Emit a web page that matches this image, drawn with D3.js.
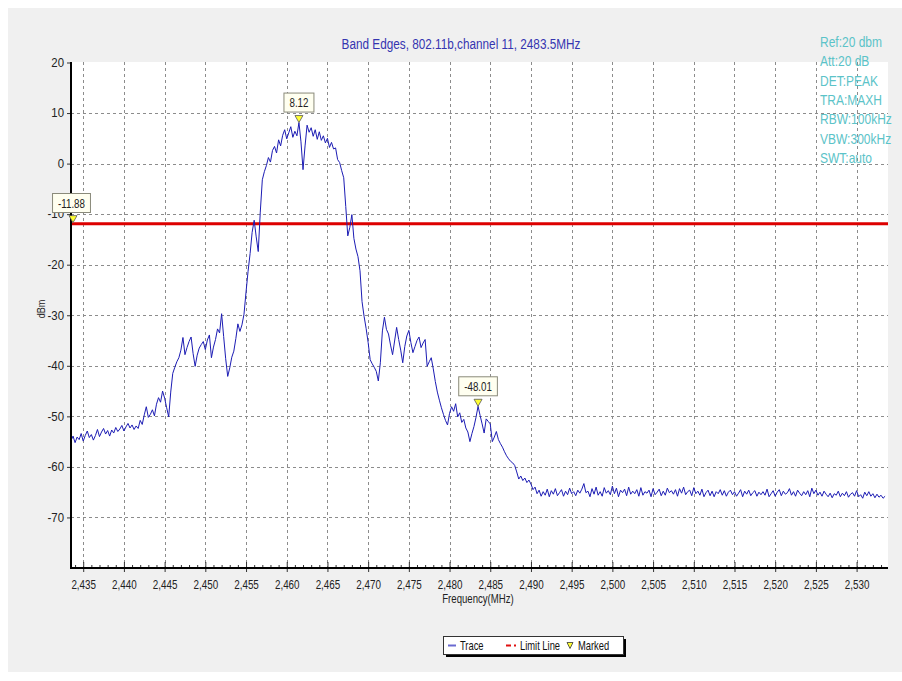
<!DOCTYPE html>
<html>
<head>
<meta charset="utf-8">
<script src="https://cdn.jsdelivr.net/npm/d3@7"></script>
<style>
body { margin: 0; background: #fff; }
svg { display: block; }
text { font-family: "Liberation Sans", Arial, sans-serif; }
</style>
</head>
<body>
<svg width="902" height="681"></svg>
<script>
// chart text
const titleText = "Band Edges, 802.11b,channel 11, 2483.5MHz";
const setupLines = ["Ref:20 dbm", "Att:20 dB", "DET:PEAK", "TRA:MAXH", "RBW:100kHz", "VBW:300kHz", "SWT:auto"];
const legendItems = ["Trace", "Limit Line", "Marked"];

// axes
const sweepRange = [2433.5, 2533.5];   // MHz, 100 MHz span around 2483.5
const freqTicks = [2435, 2440, 2445, 2450, 2455, 2460, 2465, 2470, 2475, 2480,
                   2485, 2490, 2495, 2500, 2505, 2510, 2515, 2520, 2525, 2530];
const dbmRange = [-80, 20];
const dbmTicks = [20, 10, 0, -10, -20, -30, -40, -50, -60, -70];

// limit line and markers
const limitDbm = -11.88;
const markerFreq = [2461.5, 2483.5];
const markerDbm = [8.12, -48.01];

// trace, one value every 0.25 MHz from 2433.5 to 2533.5
const traceDbm = [
  -54.8, -53.9, -55.2, -54.1,   // 2433.5
  -54.6, -53.4, -54.9, -53.8,
  -52.9, -54.2, -53.6, -54.7,
  -53.8, -52.6, -54.0, -53.1,
  -52.4, -53.5, -52.8, -53.9,
  -52.7, -53.3, -52.2, -53.0,   // 2438.5
  -52.5, -51.8, -52.9, -52.1,
  -51.4, -52.3, -51.7, -52.6,
  -51.9, -52.4, -50.8, -51.6,
  -49.7, -48.1, -50.2, -49.6,
  -48.7, -49.9, -47.6, -46.3,   // 2443.5
  -47.2, -45.0, -46.4, -48.3,
  -50.1, -45.2, -41.5, -40.3,
  -39.2, -38.4, -36.9, -34.4,
  -37.8, -36.4, -35.2, -34.3,
  -37.6, -40.1, -37.9, -36.5,   // 2448.5
  -35.8, -35.2, -36.8, -34.9,
  -33.9, -38.4, -36.3, -34.8,
  -32.7, -33.5, -29.7, -34.2,
  -38.6, -42.1, -40.4, -38.3,
  -37.1, -34.6, -31.7, -33.2,   // 2453.5
  -31.9, -29.8, -25.4, -21.3,
  -17.8, -13.6, -11.2, -14.5,
  -17.4, -9.6, -3.2, -1.6,
  -0.4, 1.2, 0.3, 2.6,
  3.4, 2.1, 4.7, 3.5,           // 2458.5
  5.6, 6.7, 4.9, 6.1,
  7.3, 5.2, 6.4, 5.5,
  8.12, 4.3, -1.2, 3.5,
  7.6, 6.2, 7.1, 5.4,
  6.7, 4.8, 6.3, 4.6,           // 2463.5
  5.5, 4.1, 5.0, 3.2,
  4.2, 2.9, 3.1, 0.8,
  0.2, -1.4, -2.8, -8.5,
  -14.3, -12.6, -10.1, -14.8,
  -16.9, -18.4, -21.2, -27.3,   // 2468.5
  -30.2, -32.6, -35.4, -38.8,
  -39.6, -40.3, -41.1, -43.0,
  -39.4, -33.1, -30.4, -32.8,
  -33.7, -35.9, -37.8, -35.1,
  -32.4, -34.8, -36.9, -39.4,   // 2473.5
  -36.2, -34.1, -33.0, -35.4,
  -37.4, -36.2, -35.0, -34.3,
  -36.4, -35.5, -34.8, -40.1,
  -39.2, -38.4, -40.6, -43.1,
  -45.2, -46.8, -48.3, -49.6,   // 2478.5
  -50.8, -51.7, -49.4, -48.1,
  -49.0, -47.5, -50.1, -49.3,
  -51.2, -50.6, -52.3, -53.1,
  -55.0, -53.4, -52.0, -50.2,
  -48.01, -49.8, -51.5, -53.3,  // 2483.5
  -50.5, -51.0, -51.5, -55.0,
  -54.1, -53.0, -54.6, -55.4,
  -56.1, -57.0, -57.8, -58.4,
  -58.9, -59.2, -59.7, -61.0,
  -62.4, -61.8, -62.7, -62.2,   // 2488.5
  -63.1, -62.6, -63.4, -64.5,
  -64.0, -65.3, -64.6, -65.8,
  -64.9, -65.6, -64.4, -65.9,
  -64.7, -65.4, -64.3, -65.7,
  -65.1, -64.5, -65.8, -64.8,   // 2493.5
  -65.5, -64.2, -65.3, -64.9,
  -65.7, -64.6, -65.2, -64.4,
  -63.3, -65.1, -64.8, -65.9,
  -64.3, -65.4, -64.0, -65.6,
  -64.9, -65.8, -64.1, -65.2,   // 2498.5
  -64.7, -65.5, -63.8, -65.3,
  -64.2, -65.9, -64.6, -65.1,
  -64.4, -65.7, -64.0, -65.4,
  -64.8, -65.3, -64.5, -65.8,
  -64.1, -65.6, -64.9, -65.2,   // 2503.5
  -64.6, -65.9, -64.3, -65.5,
  -65.0, -64.4, -65.7, -64.8,
  -65.6, -64.2, -65.1, -64.7,
  -65.4, -64.5, -65.8, -64.3,
  -65.2, -64.0, -65.5, -64.9,   // 2508.5
  -64.6, -65.7, -64.1, -65.3,
  -64.8, -65.6, -64.4, -65.9,
  -65.1, -64.6, -65.7, -64.8,
  -65.9, -64.9, -65.3, -64.5,
  -65.6, -64.7, -65.8, -65.0,   // 2513.5
  -64.6, -65.5, -64.9, -65.8,
  -65.2, -64.5, -65.9, -64.8,
  -65.4, -64.6, -65.7, -65.1,
  -64.7, -65.8, -65.0, -65.5,
  -64.9, -65.6, -64.4, -65.9,   // 2518.5
  -65.3, -64.7, -65.8, -65.0,
  -64.5, -65.7, -64.8, -65.4,
  -65.1, -64.3, -65.6, -64.9,
  -65.8, -64.6, -65.2, -65.7,
  -64.9, -65.5, -64.7, -65.9,   // 2523.5
  -64.2, -65.3, -64.6, -65.6,
  -65.0, -65.8, -64.8, -65.4,
  -65.9, -65.2, -66.1, -65.3,
  -65.6, -64.8, -65.9, -65.2,
  -65.7, -64.9, -66.0, -65.4,   // 2528.5
  -65.1, -65.8, -64.7, -65.9,
  -65.5, -66.2, -65.0, -65.7,
  -64.9, -65.8, -65.3, -66.1,
  -65.4, -66.0, -65.6, -66.2,
  -65.8                         // 2533.5
];

let svg = d3.select("svg");

// squeeze Liberation Sans into a narrow face like the original
function narrow(sel, k) {
    sel.each(function() {
        let w = this.getComputedTextLength();
        d3.select(this).attr("textLength", w * k).attr("lengthAdjust", "spacingAndGlyphs");
    });
}

// panel background
svg.append("rect").attr("x", 8).attr("y", 8).attr("width", 894).attr("height", 664).attr("fill", "#f0f0f0");

let plotL = 71, plotR = 888, plotT = 62, plotB = 568;
svg.append("rect").attr("x", plotL).attr("y", plotT).attr("width", plotR - plotL).attr("height", plotB - plotT).attr("fill", "#fff");

let x = d3.scaleLinear().domain(sweepRange).range([71, 885.1]);
let y = d3.scaleLinear().domain(dbmRange).range([plotB, 62.5]);
let idxToFreq = d3.scaleLinear().domain([0, traceDbm.length - 1]).range(sweepRange);

// grid
let grid = svg.append("g").attr("stroke", "#8c8c8c").attr("stroke-dasharray", "3,3").attr("stroke-width", 1);
grid.selectAll("line.v").data(freqTicks).enter().append("line")
    .attr("x1", d => Math.round(x(d)) + 0.5).attr("x2", d => Math.round(x(d)) + 0.5)
    .attr("y1", plotT).attr("y2", plotB);
grid.selectAll("line.h").data(dbmTicks.filter(d => d < 20)).enter().append("line")
    .attr("x1", plotL).attr("x2", plotR)
    .attr("y1", d => Math.round(y(d)) + 0.5).attr("y2", d => Math.round(y(d)) + 0.5);

// limit line
svg.append("line")
    .attr("x1", plotL).attr("x2", plotR)
    .attr("y1", y(limitDbm)).attr("y2", y(limitDbm))
    .attr("stroke", "#dd0000").attr("stroke-width", 3);

// trace
let line = d3.line()
    .x((d, i) => x(idxToFreq(i)))
    .y(d => y(d));
svg.append("path").datum(traceDbm)
    .attr("d", line)
    .attr("fill", "none")
    .attr("stroke", "#1c1cb4")
    .attr("stroke-width", 1)
    .attr("stroke-linejoin", "round");

// x axis
let xAxis = svg.append("g").attr("transform", `translate(0,${plotB})`)
    .call(d3.axisBottom(x).tickValues(freqTicks).tickSize(4).tickPadding(8).tickFormat(d3.format(",")));
svg.append("g").attr("transform", `translate(0,${plotB})`)
    .call(d3.axisBottom(x).tickValues(freqTicks).tickSize(-6).tickFormat(""));
svg.append("g").attr("transform", `translate(0,${plotB})`)
    .call(d3.axisBottom(x).tickValues(d3.range(2434, 2534).filter(d => d % 5 !== 0)).tickSize(-3).tickFormat(""));

// y axis
let yAxis = svg.append("g").attr("transform", `translate(${plotL},0)`)
    .call(d3.axisLeft(y).tickValues(dbmTicks).tickSize(4).tickPadding(3).tickFormat(d => String(d)));

svg.selectAll(".domain").remove();
svg.selectAll(".tick line").attr("stroke", "#333");
svg.selectAll(".tick text").attr("font-size", 12).attr("fill", "#222")
    .attr("font-family", "\"Liberation Sans\", Arial, sans-serif");
narrow(xAxis.selectAll(".tick text"), 0.82);
narrow(yAxis.selectAll(".tick text"), 0.95);

// axis lines
svg.append("line").attr("x1", plotL).attr("x2", plotL).attr("y1", plotT).attr("y2", plotB + 1)
    .attr("stroke", "#000").attr("stroke-width", 2);
svg.append("line").attr("x1", plotL - 1).attr("x2", plotR).attr("y1", plotB).attr("y2", plotB)
    .attr("stroke", "#000").attr("stroke-width", 2);

// axis titles
svg.append("text").attr("x", 478).attr("y", 603).attr("text-anchor", "middle")
    .attr("font-size", 12).attr("fill", "#222").text("Frequency(MHz)")
    .call(narrow, 0.8);
svg.append("text").attr("transform", "translate(45,309) rotate(-90)").attr("text-anchor", "middle")
    .attr("font-size", 11).attr("fill", "#222").text("dBm")
    .call(narrow, 0.82);

// title
svg.append("text").attr("x", 461).attr("y", 49).attr("text-anchor", "middle")
    .attr("font-size", 14).attr("fill", "#3535b0").text(titleText)
    .call(narrow, 0.84);

// setup text
svg.append("g").selectAll("text").data(setupLines).enter().append("text")
    .attr("x", 820).attr("y", (d, i) => 47 + i * 19.3)
    .attr("font-size", 15).attr("fill", "#5bc3c8")
    .text(d => d)
    .call(narrow, 0.8);

// markers
function markerTriangle(g, cx, tipY) {
    g.append("path")
        .attr("d", `M${cx - 4},${tipY - 7}L${cx + 4},${tipY - 7}L${cx},${tipY}Z`)
        .attr("fill", "#ffff33").attr("stroke", "#555").attr("stroke-width", 0.8);
}
function markerLabel(g, cx, boxBottom, label) {
    let t = g.append("text").attr("x", cx).attr("y", boxBottom - 5)
        .attr("text-anchor", "middle").attr("font-size", 13).attr("fill", "#222").text(label);
    narrow(t, 0.75);
    let w = +t.attr("textLength") + 11;
    g.insert("rect", "text")
        .attr("x", cx - w / 2).attr("y", boxBottom - 19).attr("width", w).attr("height", 19)
        .attr("fill", "#fffff0").attr("stroke", "#8a8a7a").attr("stroke-width", 1);
}

let mk = svg.append("g");
markerFreq.forEach((f, i) => {
    let px = x(f), py = y(markerDbm[i]);
    markerTriangle(mk, px, py);
    markerLabel(mk.append("g"), px, py - 10.5, markerDbm[i].toFixed(2));
});
// limit value marker at the axis
markerTriangle(mk, plotL + 2, y(limitDbm) - 1);
markerLabel(mk.append("g"), 71.5, 212.5, limitDbm.toFixed(2));

// legend
let lg = svg.append("g").attr("transform", "translate(443,636)");
lg.append("rect").attr("x", 3).attr("y", 3).attr("width", 180).attr("height", 18).attr("fill", "#000");
lg.append("rect").attr("x", 0.5).attr("y", 0.5).attr("width", 180).attr("height", 18).attr("fill", "#fff").attr("stroke", "#333");
lg.append("line").attr("x1", 5).attr("x2", 13).attr("y1", 9.5).attr("y2", 9.5).attr("stroke", "#6a6ad0").attr("stroke-width", 2);
lg.append("line").attr("x1", 63).attr("x2", 75).attr("y1", 9.5).attr("y2", 9.5).attr("stroke", "#e01010").attr("stroke-width", 2).attr("stroke-dasharray", "5,3,2");
lg.append("path").attr("d", "M124,6.5L130,6.5L127,12.5Z").attr("fill", "#ffff33").attr("stroke", "#333").attr("stroke-width", 0.8);
lg.selectAll("text.item").data(legendItems).enter().append("text")
    .attr("x", (d, i) => [17, 77, 135][i]).attr("y", 14)
    .attr("font-size", 13).attr("fill", "#111").text(d => d)
    .call(narrow, 0.72);
</script>
</body>
</html>
